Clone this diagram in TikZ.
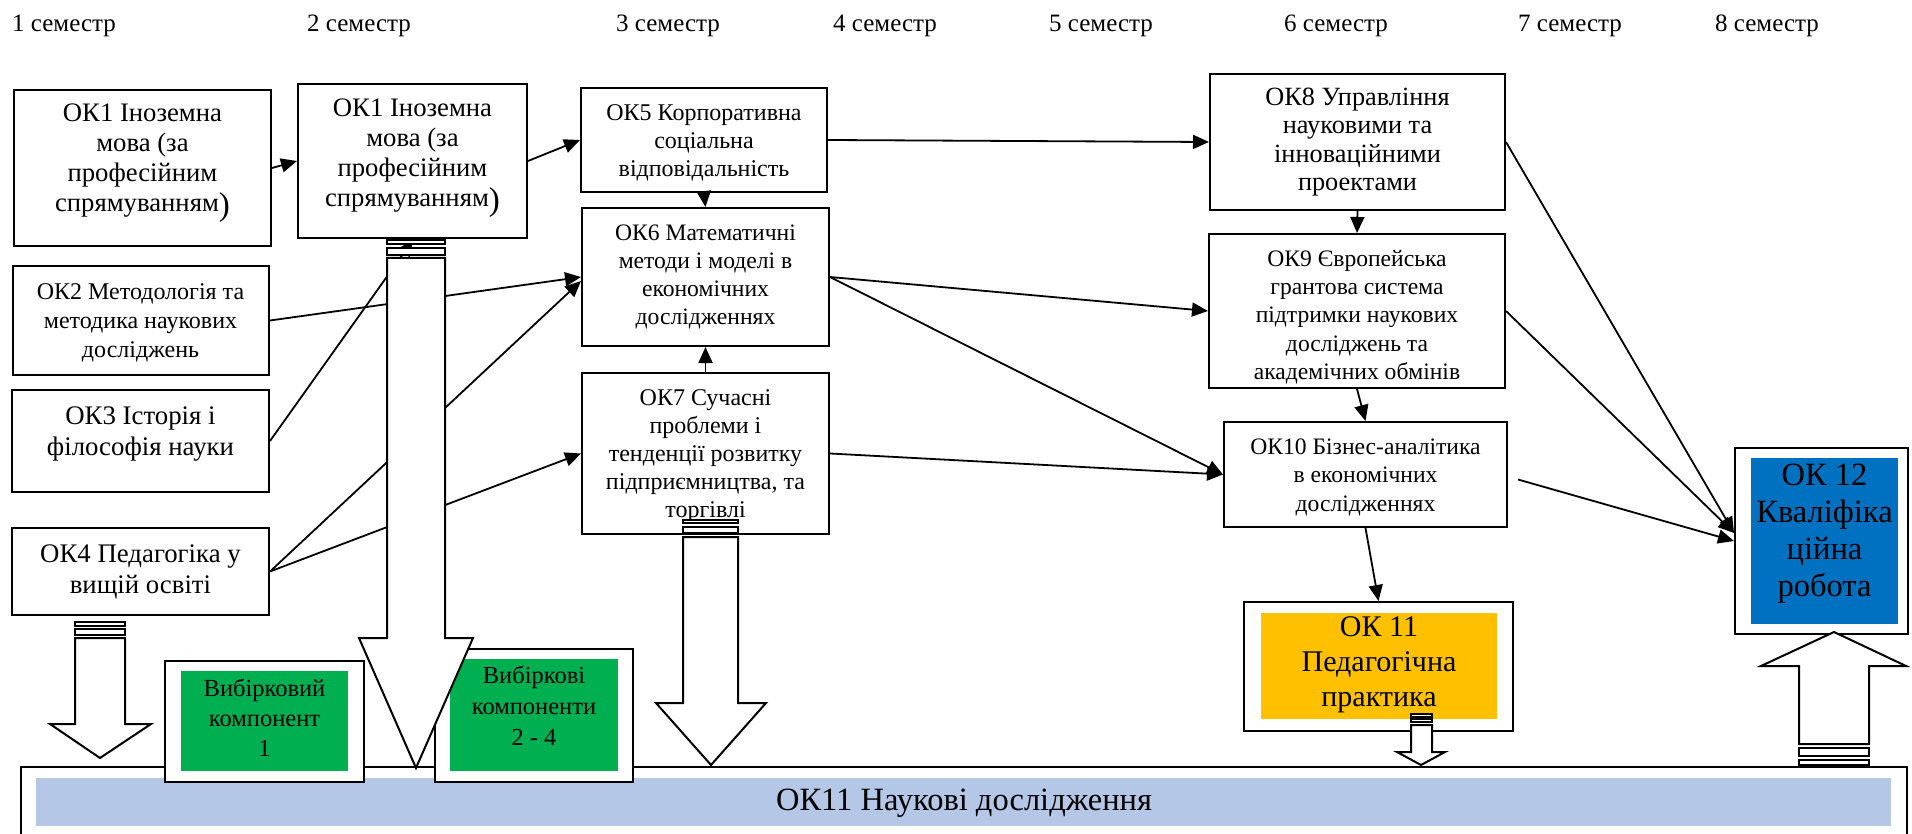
\documentclass[tikz,border=0pt]{standalone}
\usepackage{fontspec}
\setmainfont{Liberation Serif}
\usetikzlibrary{arrows.meta,fit,calc}
\definecolor{bandblue}{HTML}{B4C7E7}
\definecolor{vgreen}{HTML}{00B050}
\definecolor{vyellow}{HTML}{FFC000}
\definecolor{vblue}{HTML}{0070C0}
\tikzset{
  box/.style={draw, line width=2pt, fill=white, inner sep=0pt},
  cbox/.style={draw=none, inner sep=0pt},
  txt/.style={align=center, inner sep=0pt, font=\fontsize{24}{28}\selectfont},
  conn/.style={line width=1.8pt, -{Triangle[length=16pt,width=14pt]}},
  blk/.style={draw, line width=2pt, fill=white, line join=miter},
  sem/.style={anchor=base west, inner sep=0pt, font=\fontsize{25}{28}\selectfont},
}
\newcommand\bigparen{\raisebox{-4pt}{\fontsize{33}{33}\selectfont)}}
\begin{document}
\begin{tikzpicture}[x=1pt,y=-1pt]
\useasboundingbox (0,0) rectangle (1912,834);
\clip (0,0) rectangle (1912,834);

% semester labels
\node[sem] (s1) at (12,32) {1 семестр};
\node[sem] (s2) at (307,32) {2 семестр};
\node[sem] (s3) at (616,32) {3 семестр};
\node[sem] (s4) at (833,32) {4 семестр};
\node[sem] (s5) at (1049,32) {5 семестр};
\node[sem] (s6) at (1284,32) {6 семестр};
\node[sem] (s7) at (1518,32) {7 семестр};
\node[sem] (s8) at (1715,32) {8 семестр};

% bottom frame and band
\node[box, line width=1.5pt, fit={(21,767) (1907,850)}] (frame) {};
\node[cbox, fill=bandblue, fit={(36,778) (1891,826)}] (band) {};
\node[txt, font=\fontsize{32.5}{36}\selectfont] (bandt) at (964,803) {ОК11 Наукові дослідження};

% boxes
\node[box, fit={(14,90) (271,246)}] (ok1a) {};
\node[txt, font=\fontsize{26.7}{30}\selectfont] (ok1at) at (142.5,163) {ОК1 Іноземна\\мова (за\\професійним\\спрямуванням\bigparen};
\node[box, fit={(298,84) (527,238)}] (ok1b) {};
\node[txt, font=\fontsize{26.7}{30}\selectfont] (ok1bt) at (412.5,158) {ОК1 Іноземна\\мова (за\\професійним\\спрямуванням\bigparen};
\node[box, fit={(13,266) (269,375)}] (ok2) {};
\node[txt, font=\fontsize{24}{29}\selectfont] (ok2t) at (140.5,323) {ОК2 Методологія та\\методика наукових\\досліджень};
\node[box, fit={(12,390) (269,492)}] (ok3) {};
\node[txt, font=\fontsize{26.8}{31.5}\selectfont] (ok3t) at (140.5,434) {ОК3 Історія і\\філософія науки};
\node[box, fit={(12,528) (269,615)}] (ok4) {};
\node[txt, font=\fontsize{26.8}{31.5}\selectfont] (ok4t) at (140.5,572) {ОК4 Педагогіка у\\вищій освіті};
\node[box, fit={(581,88) (827,192)}] (ok5) {};
\node[txt] (ok5t) at (704,143) {ОК5 Корпоративна\\соціальна\\відповідальність};
\node[box, fit={(582,208) (829,346)}] (ok6) {};
\node[txt, font=\fontsize{23.6}{28}\selectfont] (ok6t) at (705.5,277) {ОК6 Математичні\\методи і моделі в\\економічних\\дослідженнях};
\node[box, fit={(582,373) (829,534)}] (ok7) {};
\node[txt] (ok7t) at (705.5,456) {ОК7 Сучасні\\проблеми і\\тенденції розвитку\\підприємництва, та\\торгівлі};
\node[box, fit={(1210,74) (1505,210)}] (ok8) {};
\node[txt, font=\fontsize{26.3}{28.3}\selectfont] (ok8t) at (1357.5,142) {ОК8 Управління\\науковими та\\інноваційними\\проектами};
\node[box, fit={(1209,234) (1505,388)}] (ok9) {};
\node[txt, font=\fontsize{23.6}{28.3}\selectfont] (ok9t) at (1357,317) {ОК9 Європейська\\грантова система\\підтримки наукових\\досліджень та\\академічних обмінів};
\node[box, fit={(1224,422) (1507,527)}] (ok10) {};
\node[txt, font=\fontsize{23.6}{28.5}\selectfont] (ok10t) at (1365.5,477) {ОК10 Бізнес-аналітика\\в економічних\\дослідженнях};

% coloured boxes
\node[box, fit={(1244,602) (1513,731)}] (ok11) {};
\node[cbox, fill=vyellow, fit={(1261,613) (1497,719)}] (ok11c) {};
\node[txt, font=\fontsize{30}{35}\selectfont] (ok11t) at (1379,665) {ОК 11\\Педагогічна\\практика};
\node[box, fit={(1735,448) (1908,634)}] (ok12) {};
\node[cbox, fill=vblue, fit={(1751,458) (1898,624)}] (ok12c) {};
\node[txt, font=\fontsize{32.5}{37}\selectfont] (ok12t) at (1824.5,534) {ОК 12\\Кваліфіка\\ційна\\робота};
\node[box, fit={(165,661) (364,782)}] (v1) {};
\node[cbox, fill=vgreen, fit={(181,671) (348,771)}] (v1c) {};
\node[txt, font=\fontsize{24.5}{30}\selectfont] (v1t) at (264.5,718) {Вибірковий\\компонент\\1};
\node[box, fit={(435,649) (633,782)}] (v24) {};
\node[cbox, fill=vgreen, fit={(450,659) (618,771)}] (v24c) {};
\node[txt, font=\fontsize{24.5}{31}\selectfont] (v24t) at (534,706) {Вибіркові\\компоненти\\2 - 4};

% connectors
\coordinate (c3) at (413,240);
\coordinate (c10) at ($(ok10.east)+(10,5)$);
\draw[conn] (ok1a.east) -- (ok1b.west);
\draw[conn] (ok1b.east) -- (ok5.west);
\draw[conn] (ok5.east) -- (ok8.west);
\draw[conn] (ok5.south) -- (ok6.north);
\draw[conn] (ok7.north) -- (ok6.south);
\draw[conn] (ok2.east) -- (ok6.west);
\draw[conn] (ok3.east) -- (c3);
\draw[conn] (ok4.east) -- ($(ok6.west)+(0,4)$);
\draw[conn] (ok4.east) -- (ok7.west);
\draw[conn] (ok6.east) -- (ok9.west);
\draw[conn] (ok6.east) -- (ok10.west);
\draw[conn] (ok7.east) -- (ok10.west);
\draw[conn] (ok8.south) -- (ok9.north);
\draw[conn] (ok9.south) -- (ok10.north);
\draw[conn] (ok10.south) -- (ok11.north);
\draw[conn] (ok8.east) -- ($(ok12.west)+(0,-8)$);
\draw[conn] (ok9.east) -- ($(ok12.west)+(0,-8)$);
\draw[conn] (c10) -- (ok12.west);

% block arrows
% A: from OK1 (2nd semester)
\draw[blk] (387,240) rectangle (445,244);
\draw[blk] (387,248) rectangle (445,255);
\draw[blk] (387,258) -- (445,258) -- (445,638) -- (473,638) -- (416,768) -- (359,638) -- (387,638) -- cycle;
% B: from OK4
\draw[blk] (75,622) rectangle (125,626);
\draw[blk] (75,629) rectangle (125,635);
\draw[blk] (75,638) -- (125,638) -- (125,724) -- (151,724) -- (100,758) -- (50,724) -- (75,724) -- cycle;
% C: from OK7
\draw[blk] (683,520) rectangle (738,523);
\draw[blk] (683,527) rectangle (738,533);
\draw[blk] (683,537) -- (738,537) -- (738,703) -- (766,703) -- (711,765) -- (656,703) -- (683,703) -- cycle;
% D: from OK11
\draw[blk] (1411,714) rectangle (1432,717);
\draw[blk] (1411,719) rectangle (1432,722);
\draw[blk] (1411,725) -- (1432,725) -- (1432,752) -- (1445,752) -- (1421,765) -- (1397,752) -- (1411,752) -- cycle;
% E: up to OK12
\draw[blk] (1799,744) -- (1869,744) -- (1869,666) -- (1906,666) -- (1834,632) -- (1761,666) -- (1799,666) -- cycle;
\draw[blk] (1799,748) rectangle (1869,756);
\draw[blk] (1799,760) rectangle (1869,765);
\end{tikzpicture}
\end{document}
